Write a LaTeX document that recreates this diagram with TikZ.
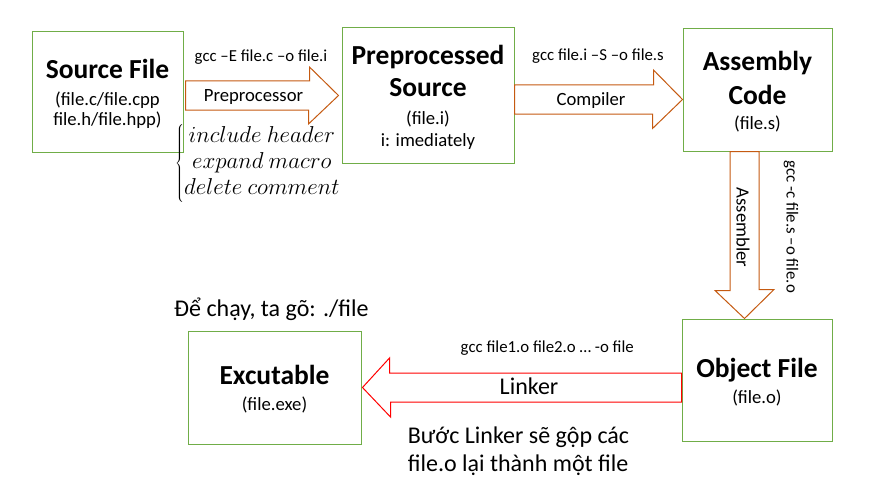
\RequirePackage{fix-cm}
\documentclass[tikz,border=0pt]{standalone}
\usepackage{fontspec}
\setmainfont{Carlito}
\usetikzlibrary{calc, positioning}
\definecolor{boxgreen}{HTML}{70AD47}
\definecolor{arroworange}{HTML}{C55A11}
\newcommand{\ttlfont}{\fontsize{27.5}{27.5}\selectfont\bfseries\rule{0pt}{23pt}}
\newcommand{\cmdfont}{\fontsize{16.8}{19}\selectfont}
\setlength{\lineskiplimit}{-50pt}

\begin{document}
\begin{tikzpicture}[
          x=1pt, y=-1pt,
          every node/.style={font=\fontsize{18.67}{20}\selectfont},
          box/.style={draw=boxgreen, line width=1pt, align=center, inner sep=0pt},
          orangearrow/.style={draw=arroworange, line width=1pt, fill=white, line join=miter},
          redarrow/.style={draw=red, line width=1pt, fill=white, line join=miter},
          cmd/.style={font=\cmdfont, anchor=base},
          arrowtext/.style={anchor=base},
          note/.style={font=\fontsize{24}{28.4}\selectfont, align=left}
        ]
        \useasboundingbox (0,0) rectangle (881,495);

        % the five stages
        \node [box, minimum width=151, minimum height=120] (src) at (107.5,92)
          {{\ttlfont Source File}\\[6.7pt](file.c/file.cpp\\file.h/file.hpp)};
        \node [box, minimum width=172, minimum height=135] (pre) at (428,95.5)
          {{\ttlfont Preprocessed}\\[12.4pt]{\ttlfont Source}\\[8pt](file.i)\\[2.5pt]i: imediately};
        \node [box, minimum width=149, minimum height=122] (asm) at (757.5,90)
          {{\ttlfont Assembly}\\[13.3pt]{\ttlfont Code}\\[5.5pt](file.s)};
        \node [box, minimum width=150, minimum height=122] (obj) at (757,380)
          {{\ttlfont Object File}\\[6pt](file.o)};
        \node [box, minimum width=173, minimum height=113] (exe) at (274.5,387.5)
          {{\ttlfont Excutable}\\[5.5pt](file.exe)};

        % block arrows
        \draw [orangearrow] ($(src.east)+(2,-11)$) -- ++(124,0) -- ++(0,-14)
          -- ($(pre.west)+(-3,0)$) -- ++(-30,28.5) -- ++(0,-14) -- ($(src.east)+(2,18)$) -- cycle;
        \draw [orangearrow] ($(pre.east)+(0,-10.5)$) -- ++(139,0) -- ++(0,-15)
          -- ($(asm.west)+(0,9.5)$) -- ++(-30,29) -- ++(0,-14.5) -- ($(pre.east)+(0,18.5)$) -- cycle;
        \draw [orangearrow] ($(asm.south)+(-27.5,0)$) -- ++(0,139) -- ++(-15,0)
          -- ($(obj.north)+(-12.5,0)$) -- ++(29.5,-29) -- ++(-15,0) -- ($(asm.south)+(1.5,0)$) -- cycle;
        \draw [redarrow] ($(obj.west)+(0,-7)$) -- ++(-292,0) -- ++(0,-15)
          -- ($(exe.east)+(1,0)$) -- ++(28,29.5) -- ++(0,-15) -- ($(obj.west)+(0,22)$) -- cycle;

        % arrow texts
        \node [cmd] (cpre) at (261,62) {gcc –E file.c –o file.i};
        \node [arrowtext] (lpre) at (253.5,101) {Preprocessor};
        \node [cmd] (ccomp) at (598,60) {gcc file.i –S –o file.s};
        \node [arrowtext] (lcomp) at (591,106) {Compiler};
        \node [arrowtext, rotate=-90] (lasm) at (736.7,227.5) {Assembler};
        \node [cmd, rotate=-90] (casm) at (786.7,226.7) {gcc -c file.s –o file.o};
        \node [cmd] (clink) at (547.3,352.3) {gcc file1.o file2.o … -o file};
        \node [anchor=base, font=\fontsize{24}{24}\selectfont] (llink) at (529,394) {Linker};

        % notes
        \node [anchor=base, font=\fontsize{23}{26}\selectfont] (steps) at (258,169)
          {\lineskiplimit=0pt$\left\{\begin{array}{@{}c@{}}include\ header\\expand\ macro\\delete\ comment\end{array}\right.$};
        \node [note, anchor=base west, inner sep=0pt] (run) at (174,316.7) {Để chạy, ta gõ: ./file};
        \node [note, anchor=base west, inner sep=0pt] (linknote) at (407.7,471.7)
          {Bước Linker sẽ gộp các\\file.o lại thành một file};
        \end{tikzpicture}
\end{document}
